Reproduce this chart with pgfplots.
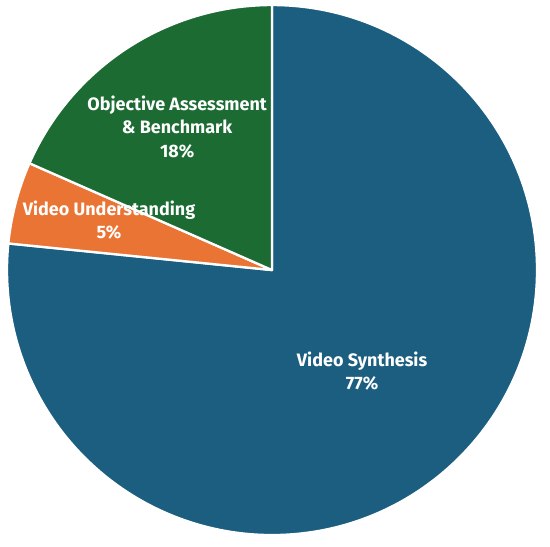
\documentclass[border=0pt]{standalone}
\usepackage{fontspec}
\setmainfont{Fira Sans}
\usepackage{pgfplots}
\usepackage{pgfplotstable}
\pgfplotsset{compat=1.18}
\definecolor{cSyn}{HTML}{1B5E80}
\definecolor{cUnd}{HTML}{EA7433}
\definecolor{cObj}{HTML}{1B6B33}
\pgfplotstableread{
label value
Synthesis 76.6
Understanding 5.0
Objective 18.4
}\piedata
\begin{document}
\begin{tikzpicture}
\begin{axis}[
  scale only axis, width=10cm, height=9.945cm,
  xmin=-1.0264, xmax=1.049, ymin=-1.045, ymax=1.019,
  hide axis, clip=false,
]
\path (axis cs:-1.0264,-1.045) rectangle (axis cs:1.049,1.019);
\pgfplotstablegetelem{0}{value}\of\piedata \let\va\pgfplotsretval
\pgfplotstablegetelem{1}{value}\of\piedata \let\vb\pgfplotsretval
\pgfplotstablegetelem{2}{value}\of\piedata \let\vc\pgfplotsretval
\pgfmathsetmacro\aA{90-3.6*\va}
\pgfmathsetmacro\aB{\aA-3.6*\vb}
\pgfmathsetmacro\aC{\aB-3.6*\vc}
\filldraw[fill=cSyn, draw=white, line width=1.2pt, line join=round]
  (axis cs:0,0) -- (axis cs:0,1) arc[start angle=90, end angle=\aA, radius=1] -- cycle;
\filldraw[fill=cUnd, draw=white, line width=1.2pt, line join=round]
  (axis cs:0,0) -- (axis cs:{cos(\aA)},{sin(\aA)}) arc[start angle=\aA, end angle=\aB, radius=1] -- cycle;
\filldraw[fill=cObj, draw=white, line width=1.2pt, line join=round]
  (axis cs:0,0) -- (axis cs:{cos(\aB)},{sin(\aB)}) arc[start angle=\aB, end angle=\aC, radius=1] -- cycle;
\tikzset{pl/.style={text=white, font=\fontsize{9.3}{12.2}\selectfont\bfseries, align=center}}
\node[pl] at (axis cs:0.34,-0.381) {Video Synthesis\\77\%};
\node[pl] at (axis cs:-0.358,0.540) {Objective Assessment\\\& Benchmark\\18\%};
\node[pl] at (axis cs:-0.615,0.189) {Video Understanding\\5\%};
\end{axis}
\end{tikzpicture}
\end{document}
